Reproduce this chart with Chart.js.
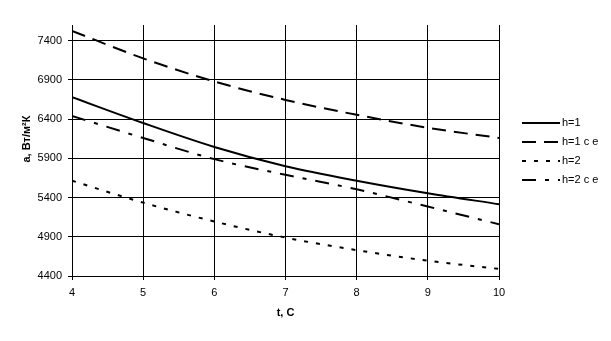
<!DOCTYPE html>
<html>
<head>
<meta charset="utf-8">
<script src="https://cdn.jsdelivr.net/npm/chart.js@4/dist/chart.umd.min.js"></script>
<style>
  html, body { margin: 0; padding: 0; background: #fff; }
  #wrap { width: 611px; height: 341px; }
</style>
</head>
<body>
<div id="wrap"><canvas id="chart" width="611" height="341"></canvas></div>
<script>
// ── Data ────────────────────────────────────────────────
const tValues   = [4, 5, 6, 7, 8, 9, 10];
const h1        = [6680, 6350, 6045, 5800, 5615, 5455, 5315];
const h1ce      = [7525, 7175, 6880, 6645, 6455, 6290, 6160];
const h2        = [5615, 5335, 5095, 4890, 4730, 4595, 4490];
const h2ce      = [6440, 6160, 5890, 5690, 5505, 5285, 5060];
const yTicks    = [4400, 4900, 5400, 5900, 6400, 6900, 7400];
const seriesNames = ['h=1', 'h=1 c e', 'h=2', 'h=2 c e'];
const dashes    = [[], [14, 8], [4, 8], [14, 9, 4, 9]];

const FONT = 'Liberation Sans, Arial, sans-serif';

const toPoints = arr => arr.map((v, i) => ({ x: tValues[i], y: v }));

// ── Legend + y-title drawn by hand ──────────────────────
const sideLegend = {
    id: 'sideLegend',
    afterDraw(chart) {
        const ctx = chart.ctx;
        ctx.save();
        ctx.fillStyle = '#000';
        ctx.strokeStyle = '#000';
        ctx.lineWidth = 2;
        ctx.font = '11px ' + FONT;
        ctx.textBaseline = 'middle';
        seriesNames.forEach((name, i) => {
            const y = 123 + i * 19;
            ctx.setLineDash(dashes[i]);
            ctx.beginPath();
            ctx.moveTo(522, y);
            ctx.lineTo(560, y);
            ctx.stroke();
            ctx.fillText(name, 562, y);
        });
        ctx.setLineDash([]);
        // y axis title
        ctx.translate(27, 139);
        ctx.rotate(-Math.PI / 2);
        ctx.font = 'bold 11px ' + FONT;
        ctx.textAlign = 'center';
        ctx.fillText('a, Вт/м²К', 0, 0);
        ctx.restore();
    },
};

new Chart(document.getElementById('chart').getContext('2d'), {
    type: 'line',
    data: {
        datasets: [h1, h1ce, h2, h2ce].map((arr, i) => ({
            label:       seriesNames[i],
            data:        toPoints(arr),
            borderColor: '#000',
            borderWidth: 2,
            borderDash:  dashes[i],
            pointRadius: 0,
            fill:        false,
            cubicInterpolationMode: 'monotone',
        })),
    },
    options: {
        responsive: false,
        animation:  false,
        layout: { padding: { top: 25, right: 112, left: 0, bottom: 0 } },
        plugins: {
            legend:  { display: false },
            tooltip: { enabled: false },
        },
        scales: {
            x: {
                type: 'linear',
                min: 4, max: 10,
                afterFit: s => { s.height = 65; },
                ticks: {
                    stepSize: 1, color: '#000', padding: 6,
                    font: { size: 11, family: FONT },
                    callback: v => String(v),
                },
                grid:  { color: '#000', lineWidth: 1, tickLength: 4 },
                border: { color: '#000', width: 1 },
                title: {
                    display: true, text: 't, C', color: '#000',
                    font: { size: 11, weight: 'bold', family: FONT },
                    padding: { top: 0, bottom: 21 },
                },
            },
            y: {
                min: 4400, max: 7600,
                afterFit: s => { s.width = 72; },
                afterBuildTicks: s => { s.ticks = yTicks.map(v => ({ value: v })); },
                ticks: {
                    color: '#000', padding: 6,
                    font: { size: 11, family: FONT },
                    callback: v => String(v),
                },
                grid:  { color: '#000', lineWidth: 1, tickLength: 4 },
                border: { color: '#000', width: 1 },
            },
        },
    },
    plugins: [sideLegend],
});
</script>
</body>
</html>
